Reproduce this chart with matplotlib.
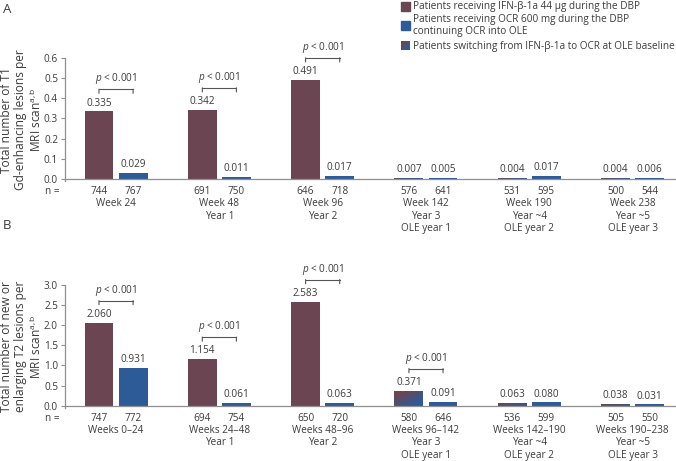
import numpy as np
import matplotlib
matplotlib.use("Agg")
import matplotlib.pyplot as plt
from matplotlib.transforms import offset_copy
from matplotlib.colors import LinearSegmentedColormap

plt.rcParams['font.family'] = ['Open Sans', 'DejaVu Sans']
plt.rcParams['mathtext.fontset'] = 'custom'
plt.rcParams['mathtext.rm'] = 'Open Sans'
plt.rcParams['mathtext.it'] = 'Open Sans:italic'

# data
groups_A = ["Week 24", "Week 48\nYear 1", "Week 96\nYear 2",
            "Week 142\nYear 3\nOLE year 1", "Week 190\nYear ~4\nOLE year 2",
            "Week 238\nYear ~5\nOLE year 3"]
ifn_A = [0.335, 0.342, 0.491, 0.007, 0.004, 0.004]
ocr_A = [0.029, 0.011, 0.017, 0.005, 0.017, 0.006]
n_ifn_A = [744, 691, 646, 576, 531, 500]
n_ocr_A = [767, 750, 718, 641, 595, 544]
sig_A = [0, 1, 2]

groups_B = ["Weeks 0\u201324", "Weeks 24\u201348\nYear 1", "Weeks 48\u201396\nYear 2",
            "Weeks 96\u2013142\nYear 3\nOLE year 1", "Weeks 142\u2013190\nYear ~4\nOLE year 2",
            "Weeks 190\u2013238\nYear ~5\nOLE year 3"]
ifn_B = [2.060, 1.154, 2.583, 0.371, 0.063, 0.038]
ocr_B = [0.931, 0.061, 0.063, 0.091, 0.080, 0.031]
n_ifn_B = [747, 694, 650, 580, 536, 505]
n_ocr_B = [772, 754, 720, 646, 599, 550]
sig_B = [0, 1, 2, 3]

switch_groups = [3, 4, 5]   # first bar = patients switching IFN -> OCR

legend_labels = ["Patients receiving IFN-\u03b2-1a 44 \u00b5g during the DBP",
                 "Patients receiving OCR 600 mg during the DBP\ncontinuing OCR into OLE",
                 "Patients switching from IFN-\u03b2-1a to OCR at OLE baseline"]

MAROON = '#6B4652'
BLUE = '#2D5B98'
TXT = '#3c3c3c'
AXC = '#8f8f8f'
BRK = '#555555'
grad_cmap = LinearSegmentedColormap.from_list('sw', [MAROON, BLUE])

W, H = 676, 461
fig = plt.figure(figsize=(W / 100, H / 100), dpi=100)


def px_axes(top, bottom):
    # axes from x=65px to right edge, top/bottom given in pixels
    return [65 / W, 1 - bottom / H, 1 - 65 / W, (bottom - top) / H]


def gradient_fill(ax, patch):
    # maroon (top-left) to blue (bottom-right) fill clipped to the bar
    x0, y0 = patch.get_x(), patch.get_y()
    w, h = patch.get_width(), patch.get_height()
    xx, yy = np.meshgrid(np.linspace(0, 1, 60), np.linspace(0, 1, 30))
    t = np.clip(((xx + (1 - yy)) / 2 - 0.5) * 1.6 + 0.5, 0, 1)
    patch.set_facecolor('none')
    im = ax.imshow(t, cmap=grad_cmap, extent=[x0, x0 + w, y0, y0 + h],
                   origin='lower', aspect='auto', zorder=2, vmin=0, vmax=1)
    im.set_clip_path(patch)


def panel(ax, groups, ifn, ocr, n_ifn, n_ocr, sig, ymax, ystep, ymin, ylabel):
    x = np.arange(len(groups))
    off, bw = 0.165, 0.28
    b1 = ax.bar(x - off, ifn, bw, color=MAROON, zorder=2)
    b2 = ax.bar(x + off, ocr, bw, color=BLUE, zorder=2)
    for g in switch_groups:
        gradient_fill(ax, b1[g])
    ax.bar_label(b1, fmt='%.3f', padding=2, fontsize=7.2, color=TXT)
    ax.bar_label(b2, fmt='%.3f', padding=2, fontsize=7.2, color=TXT)

    ax.set_xlim(-0.494, 5.42)
    ax.set_ylim(ymin, ymax)
    ax.set_yticks(np.arange(0, ymax + ystep / 2, ystep))
    ax.yaxis.set_major_formatter(matplotlib.ticker.FormatStrFormatter('%.1f'))
    ax.tick_params(axis='y', length=3, width=0.8, color=AXC, labelsize=7.2,
                   labelcolor=TXT, pad=2)
    # n under each bar
    ax.set_xticks(np.concatenate([x - off, x + off]))
    ax.set_xticklabels([str(v) for v in n_ifn + n_ocr])
    ax.tick_params(axis='x', length=0, labelsize=7.2, labelcolor=TXT, pad=5)
    for s in ['top', 'right']:
        ax.spines[s].set_visible(False)
    ax.spines['bottom'].set_position(('data', 0))
    ax.spines['left'].set_bounds(ymin, ymax)
    for s in ['left', 'bottom']:
        ax.spines[s].set_color(AXC)
        ax.spines[s].set_linewidth(0.9)

    for g, lab in enumerate(groups):
        ax.annotate(lab, xy=(g, 0), xytext=(0, -14), textcoords='offset points',
                    ha='center', va='top', fontsize=7.2, color=TXT, linespacing=1.15)
    ax.annotate("n =", xy=(0, 0), xycoords=('axes fraction', 'data'),
                xytext=(-14.5, -5), textcoords='offset points',
                ha='left', va='top', fontsize=7.2, color=TXT)

    # significance brackets
    line_tr = offset_copy(ax.transData, fig=ax.figure, y=16, units='points')
    tick_tr = offset_copy(ax.transData, fig=ax.figure, y=13, units='points')
    for g in sig:
        top = max(ifn[g], ocr[g])
        xa, xb = g - off, g + off
        ax.plot([xa, xb], [top, top], color=BRK, lw=0.8,
                transform=line_tr, clip_on=False)
        for xe in (xa, xb):
            ax.annotate('', xy=(xe, top), xycoords=tick_tr,
                        xytext=(xe, top), textcoords=line_tr,
                        arrowprops=dict(arrowstyle='-', color=BRK, lw=0.8,
                                        shrinkA=0, shrinkB=0))
        ax.annotate('$p$ < 0.001', xy=(g, top), xycoords=line_tr,
                    xytext=(0, 2), textcoords='offset points',
                    ha='center', va='bottom', fontsize=7.2, color=TXT,
                    annotation_clip=False)

    bb = ax.get_position()
    fig.text(22 / W, (bb.y0 + bb.y1) / 2, ylabel, rotation=90, ha='center',
             va='center', fontsize=8.6, color=TXT, linespacing=1.05,
             multialignment='center')


axA = fig.add_axes(px_axes(58, 181.4))
panel(axA, groups_A, ifn_A, ocr_A, n_ifn_A, n_ocr_A, sig_A, 0.6, 0.1, -0.012,
      "Total number of T1\nGd-enhancing lesions per\nMRI scan$^{\\mathrm{a,b}}$")

axB = fig.add_axes(px_axes(285, 408.1))
panel(axB, groups_B, ifn_B, ocr_B, n_ifn_B, n_ocr_B, sig_B, 3.0, 0.5, -0.06,
      "Total number of new or\nenlarging T2 lesions per\nMRI scan$^{\\mathrm{a,b}}$")

# panel letters
fig.text(3 / W, 1 - 3 / H, "A", ha='left', va='top', fontsize=9.5, color=TXT)
fig.text(3 / W, 1 - 219 / H, "B", ha='left', va='top', fontsize=9.5, color=TXT)

# legend, drawn in a pixel overlay
ov = fig.add_axes([0, 0, 1, 1], zorder=-1)
sw = 9
sw_y = [7, 25.5, 46]
ov.add_patch(plt.Rectangle((401, sw_y[0] - sw / 2), sw, sw, color=MAROON))
ov.add_patch(plt.Rectangle((401, sw_y[1] - sw / 2), sw, sw, color=BLUE))
xx, yy = np.meshgrid(np.linspace(0, 1, 20), np.linspace(0, 1, 20))
ov.imshow(np.clip(((xx + yy) / 2 - 0.5) * 4 + 0.5, 0, 1), cmap=grad_cmap,
          extent=[401, 401 + sw, sw_y[2] + sw / 2, sw_y[2] - sw / 2],
          origin='upper', aspect='auto', vmin=0, vmax=1)
ov.set_xlim(0, W)
ov.set_ylim(H, 0)
ov.axis('off')
for lab, ty in zip(legend_labels, sw_y):
    ov.text(413, ty, lab, ha='left', va='center', fontsize=7.2, color=TXT,
            linespacing=1.15)

fig.savefig("out.png", dpi=100)
